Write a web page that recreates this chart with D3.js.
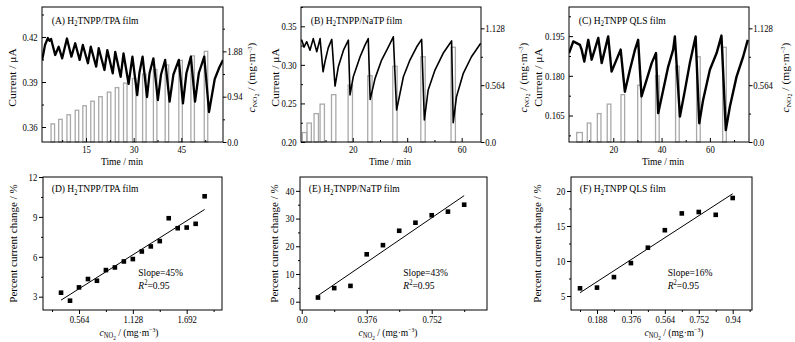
<!DOCTYPE html>
<html><head><meta charset="utf-8">
<script src="https://cdn.jsdelivr.net/npm/d3@7"></script>
<style>
body{margin:0;background:#fff}
text{font-family:"Liberation Serif","Times New Roman",serif;fill:#000;font-size:10px}
</style>
</head><body>
<svg id="chart" width="795" height="342"></svg>
<script>
// ================= DATA =================
// (A) H2TNPP/TPA film — current trace (time in min, current in µA)
const timeA = [1.2,2.1,3.0,3.5,4.0,5.3,6.4,7.5,9.0,10.4,11.6,13.0,14.0,15.6,16.5,18.2,19.0,20.8,21.7,23.4,24.2,25.9,26.8,28.4,29.6,31.1,31.8,32.8,34.2,35.0,36.2,37.6,38.6,39.9,41.3,42.5,44.2,45.5,46.6,48.0,49.3,50.5,52.2,53.7,55.5,57.0,58.1];
const currentA = [0.4047,0.4147,0.4193,0.4175,0.4187,0.408,0.4135,0.4058,0.419,0.4069,0.4158,0.4047,0.4147,0.4025,0.4135,0.4002,0.4125,0.398,0.4113,0.3958,0.410,0.3935,0.409,0.3887,0.4069,0.3813,0.396,0.4069,0.380,0.396,0.4058,0.378,0.395,0.4047,0.3769,0.395,0.4047,0.3758,0.396,0.4069,0.3769,0.396,0.4069,0.370,0.392,0.400,0.4047];
const barStartA = [4.0,6.4,9.0,11.6,14.0,16.5,19.0,21.7,24.2,26.8,29.6,32.8,36.2,39.9,44.2,48.0,52.2];
const barEndA   = [5.1,7.5,10.1,12.7,15.1,17.6,20.1,22.8,25.3,27.9,30.7,33.9,37.3,41.0,45.3,49.1,53.3];

// (B) H2TNPP/NaTP film
const timeB = [1.0,1.3,2.1,3.1,4.3,5.5,6.8,8.0,9.1,9.8,11.0,12.3,13.5,14.7,16.6,18.4,19.0,20.2,22.7,24.5,25.7,26.4,28.2,30.6,33.1,34.9,36.1,38.6,41.0,43.5,45.3,46.3,47.7,50.2,53.2,56.3,56.9,58.1,60.6,63.6,67.0];
const currentB = [0.330,0.332,0.323,0.330,0.319,0.334,0.317,0.334,0.291,0.304,0.322,0.333,0.2725,0.2975,0.319,0.332,0.261,0.2846,0.3105,0.3256,0.334,0.255,0.2825,0.3062,0.3234,0.3364,0.2414,0.2846,0.3062,0.3234,0.333,0.2285,0.2674,0.2933,0.315,0.331,0.225,0.2587,0.289,0.3105,0.328];
const barStartB = [1.5,3.2,5.8,8.0,12.2,18.3,25.5,34.7,45.0,56.1];
const barEndB   = [3.1,4.8,7.4,9.6,13.8,19.9,27.1,36.3,46.6,57.7];

// (C) H2TNPP QLS film
const timeC = [1.7,3.45,6.2,6.9,8.0,9.65,11.06,13.8,15.2,17.9,19.3,23.06,24.8,26.9,29.0,30.3,31.7,33.8,35.9,37.7,38.6,40.7,42.75,44.8,45.5,47.6,49.7,51.7,54.1,55.6,57.2,60.0,62.8,64.8,66.6,68.3,71.05,73.8,75.7];
const currentC = [0.1886,0.1930,0.1917,0.1899,0.1854,0.1936,0.1861,0.1943,0.1848,0.1949,0.1816,0.1899,0.174,0.1823,0.1899,0.1936,0.1722,0.1785,0.1848,0.1886,0.1659,0.1747,0.1835,0.1899,0.1949,0.1646,0.1747,0.1848,0.1949,0.1621,0.1709,0.1823,0.1886,0.1952,0.1595,0.1684,0.1797,0.1873,0.1936];
const barStartC = [4.85,9.24,13.4,17.5,23.2,30.1,37.5,45.8,54.5,65.3];
const barEndC   = [7.2,10.7,14.9,19.0,24.7,31.6,39.0,47.3,56.0,66.8];

// NO2 concentrations (mg·m^-3)
const concTPA = [0.376,0.47,0.564,0.658,0.752,0.846,0.94,1.034,1.128,1.222,1.316,1.41,1.504,1.598,1.692,1.786,1.88];
const concTen = [0.094,0.188,0.282,0.376,0.47,0.564,0.658,0.752,0.846,0.94];

// Percent current change (%)
const changeD = [3.3,2.7,3.7,4.33,4.2,5.0,5.2,5.65,5.83,6.4,6.78,7.18,8.9,8.15,8.2,8.48,10.55];
const changeE = [1.5,4.9,5.7,17.1,20.4,25.6,28.5,31.2,32.5,35.0];
const changeF = [6.1,6.2,7.7,9.7,11.9,14.4,16.8,17.0,16.6,19.0];

// Tick values / labels
const tickTimeA = [15,30,45], tickTimeBC = [20,40,60];
const tickCurA = [0.36,0.39,0.42], tickCurALab = ["0.36","0.39","0.42"];
const tickCurB = [0.20,0.25,0.30,0.35], tickCurBLab = ["0.20","0.25","0.30","0.35"];
const tickCurC = [0.165,0.180,0.195], tickCurCLab = ["0.165","0.180","0.195"];
const tickConcA = [0,0.94,1.88], tickConcALab = ["0.0","0.94","1.88"];
const tickConcBC = [0,0.564,1.128], tickConcBCLab = ["0.0","0.564","1.128"];
const tickXD = [0.564,1.128,1.692], tickXDLab = ["0.564","1.128","1.692"];
const tickXE = [0,0.376,0.752], tickXELab = ["0.0","0.376","0.752"];
const tickXF = [0.188,0.376,0.564,0.752,0.94], tickXFLab = ["0.188","0.376","0.564","0.752","0.94"];
const tickYD = [3,6,9,12], tickYE = [0,10,20,30,40], tickYF = [5,10,15,20];
const slopeLabels = ["Slope=45%","Slope=43%","Slope=16%"];

// ================= DRAW =================
const SX = 0.87;
const svg = d3.select("#chart");
let clipId = 0;

function rich(parent, x, y, parts, o) {
  o = o || {};
  const g = parent.append("g").attr("transform", `translate(${x},${y})` + (o.rotate ? ` rotate(${o.rotate})` : ""));
  const t = g.append("text").attr("text-anchor", o.anchor || "start")
    .style("font-size", (o.size || 11) + "px")
    .attr("transform", o.rotate ? `scale(1,${SX})` : `scale(${SX},1)`);
  if (o.dy) t.attr("dy", o.dy);
  parts.forEach(p => {
    const s = t.append("tspan").text(p.t);
    if (p.size) s.style("font-size", p.size + "px");
    if (p.dy) s.attr("dy", p.dy);
    if (p.it) s.style("font-style", "italic");
  });
}
const titleParts = (pre, post) => [{t: pre + " H"}, {t: "2", size: 7.5, dy: 2.5}, {t: post, dy: -2.5}];
const concLabel = [{t: "c", it: true}, {t: "NO", size: 7.5, dy: 2.5}, {t: "2", size: 6, dy: 1.5}, {t: " / (mg·m", dy: -4}, {t: "−3", size: 6.5, dy: -3.5}, {t: ")", dy: 3.5}];

function drawAxis(g, mk, vals, labels, size, pad, minor, minorSize) {
  if (minor) {
    const m = g.append("g").call(mk().tickValues(minor).tickFormat("").tickSize(minorSize));
    m.select(".domain").remove();
  }
  const a = g.append("g").call(mk().tickValues(vals).tickFormat((d, i) => labels[i]).tickSize(size).tickPadding(pad));
  a.select(".domain").remove();
  a.selectAll("text").attr("transform", `scale(${SX},1)`).style("font-size", "10px");
  g.selectAll("line").attr("stroke", "#000");
}

function range(a, b, s) { const r = []; for (let v = a; v <= b + 1e-9; v += s) r.push(+v.toFixed(4)); return r; }

function topPanel(c) {
  const g = svg.append("g");
  const x = d3.scaleLinear().domain(c.xd).range([c.x0, c.x1]);
  const yL = d3.scaleLinear().domain(c.yd).range([c.y1, c.y0]);
  const yR = d3.scaleLinear().domain(c.rd).range([c.y1, c.y0]);
  const id = "clip" + (clipId++);
  svg.append("clipPath").attr("id", id).append("rect").attr("x", c.x0).attr("y", c.y0).attr("width", c.x1 - c.x0).attr("height", c.y1 - c.y0);
  // bars (NO2 pulses)
  g.append("g").selectAll("rect").data(c.bs).join("rect")
    .attr("x", (d) => x(d)).attr("width", (d, i) => x(c.be[i]) - x(d))
    .attr("y", (d, i) => yR(c.conc[i])).attr("height", (d, i) => yR(0) - yR(c.conc[i]))
    .attr("fill", "none").attr("stroke", "#a9a9a9").attr("stroke-width", 1.3);
  // current curve
  const pts = c.t.map((t, i) => [t, c.v[i]]);
  g.append("path").datum(pts).attr("clip-path", `url(#${id})`)
    .attr("d", d3.line().x(d => x(d[0])).y(d => yL(d[1])))
    .attr("fill", "none").attr("stroke", "#000").attr("stroke-width", c.sw).attr("stroke-linejoin", "round");
  // frame
  g.append("rect").attr("x", c.x0).attr("y", c.y0).attr("width", c.x1 - c.x0).attr("height", c.y1 - c.y0)
    .attr("fill", "none").attr("stroke", "#000").attr("stroke-width", 1);
  drawAxis(g.append("g").attr("transform", `translate(${c.x0},0)`), () => d3.axisLeft(yL), c.yt, c.ytl, -4, 5, c.ym, -2);
  drawAxis(g.append("g").attr("transform", `translate(${c.x1},0)`), () => d3.axisRight(yR), c.rt, c.rtl, 3.5, 1.5, c.rm, 2);
  drawAxis(g.append("g").attr("transform", `translate(0,${c.y1})`), () => d3.axisBottom(x), c.xt, c.xt.map(String), -4, 4, c.xm, -2);
  rich(svg, c.x0 + 9.7, 23.5, titleParts(c.tag, c.name));
  rich(svg, c.lx, (c.y0 + c.y1) / 2 + 3, [{t: "Current / μA"}], {rotate: -90, anchor: "middle", dy: "0.35em", size: 11.5});
  rich(svg, c.rx, (c.y0 + c.y1) / 2 + 3, concLabel, {rotate: -90, anchor: "middle", dy: "0.35em", size: 11.5});
  rich(svg, c.tx, 165, [{t: "Time / min"}], {anchor: "middle", size: 11});
}

function botPanel(c) {
  const g = svg.append("g");
  const x = d3.scaleLinear().domain(c.xd).range([c.x0, c.x1]);
  const y = d3.scaleLinear().domain(c.yd).range([c.y1, c.y0]);
  // least-squares fit line computed from the points
  const mx = d3.mean(c.cx), my = d3.mean(c.cy);
  const sxy = d3.sum(c.cx, (d, i) => (d - mx) * (c.cy[i] - my)), sxx = d3.sum(c.cx, d => (d - mx) * (d - mx));
  const k = sxy / sxx, b = my - k * mx;
  const xa = d3.min(c.cx), xb = d3.max(c.cx);
  g.append("line").attr("x1", x(xa)).attr("y1", y(k * xa + b)).attr("x2", x(xb)).attr("y2", y(k * xb + b))
    .attr("stroke", "#000").attr("stroke-width", 1);
  g.append("g").selectAll("rect").data(c.cx).join("rect")
    .attr("x", (d) => x(d) - 2.3).attr("y", (d, i) => y(c.cy[i]) - 2.3).attr("width", 4.6).attr("height", 4.6).attr("fill", "#000");
  g.append("rect").attr("x", c.x0).attr("y", c.y0).attr("width", c.x1 - c.x0).attr("height", c.y1 - c.y0)
    .attr("fill", "none").attr("stroke", "#000").attr("stroke-width", 1);
  drawAxis(g.append("g").attr("transform", `translate(${c.x0},0)`), () => d3.axisLeft(y), c.yt, c.yt.map(String), 4, 2.6, c.ym, 2);
  drawAxis(g.append("g").attr("transform", `translate(0,${c.y1})`), () => d3.axisBottom(x), c.xt, c.xtl, 4, 1.8, c.xm, 2);
  rich(svg, c.x0 + 8.7, 192, titleParts(c.tag, c.name));
  rich(svg, c.lx, (c.y0 + c.y1) / 2, [{t: "Percent current change / %"}], {rotate: -90, anchor: "middle", dy: "0.35em", size: 11});
  rich(svg, c.bx, 335.5, concLabel, {anchor: "middle", size: 11});
  rich(svg, c.sx, 275.5, [{t: c.slope}], {size: 11});
  rich(svg, c.sx, 288.5, [{t: "R", it: true}, {t: "2", size: 7.5, dy: -4}, {t: "=0.95", dy: 4}], {size: 11});
}

topPanel({x0: 42, x1: 223, y0: 7, y1: 142, xd: [1.15, 58.1], yd: [0.35, 0.44], rd: [0, 2.8],
  t: timeA, v: currentA, bs: barStartA, be: barEndA, conc: concTPA, sw: 2.3,
  yt: tickCurA, ytl: tickCurALab, ym: range(0.36, 0.435, 0.015),
  rt: tickConcA, rtl: tickConcALab, rm: range(0.47, 2.35, 0.94),
  xt: tickTimeA, xm: range(7.5, 52.5, 15),
  tag: "(A)", name: "TNPP/TPA film", lx: 12, rx: 251.7, tx: 122});
topPanel({x0: 301, x1: 481, y0: 7, y1: 142, xd: [1.0, 67.1], yd: [0.2, 0.375], rd: [0, 1.34],
  t: timeB, v: currentB, bs: barStartB, be: barEndB, conc: concTen, sw: 1.6,
  yt: tickCurB, ytl: tickCurBLab, ym: range(0.225, 0.375, 0.05),
  rt: tickConcBC, rtl: tickConcBCLab, rm: range(0.282, 1.30, 0.564),
  xt: tickTimeBC, xm: range(10, 60, 20),
  tag: "(B)", name: "TNPP/NaTP film", lx: 275, rx: 523, tx: 390});
topPanel({x0: 569, x1: 749, y0: 7, y1: 142, xd: [1.67, 76.2], yd: [0.155, 0.206], rd: [0, 1.34],
  t: timeC, v: currentC, bs: barStartC, be: barEndC, conc: concTen, sw: 2.4,
  yt: tickCurC, ytl: tickCurCLab, ym: range(0.1575, 0.2025, 0.015),
  rt: tickConcBC, rtl: tickConcBCLab, rm: range(0.282, 1.30, 0.564),
  xt: tickTimeBC, xm: range(10, 70, 20),
  tag: "(C)", name: "TNPP QLS film", lx: 538, rx: 785, tx: 663});

botPanel({x0: 43, x1: 222, y0: 177, y1: 310, xd: [0.187, 2.062], yd: [2, 12],
  cx: concTPA, cy: changeD, xt: tickXD, xtl: tickXDLab, xm: range(0.282, 1.974, 0.564),
  yt: tickYD, ym: range(4.5, 10.5, 3),
  tag: "(D)", name: "TNPP/TPA film", lx: 13.3, bx: 129, sx: 138.3, slope: slopeLabels[0]});
botPanel({x0: 300, x1: 487, y0: 177, y1: 310, xd: [-0.01, 1.072], yd: [-3, 45],
  cx: concTen, cy: changeE, xt: tickXE, xtl: tickXELab, xm: range(0.188, 0.94, 0.376),
  yt: tickYE, ym: range(5, 35, 10),
  tag: "(E)", name: "TNPP/NaTP film", lx: 275, bx: 388, sx: 403.3, slope: slopeLabels[1]});
botPanel({x0: 571, x1: 752, y0: 177, y1: 310, xd: [0.044, 1.047], yd: [3, 22],
  cx: concTen, cy: changeF, xt: tickXF, xtl: tickXFLab, xm: range(0.094, 1.034, 0.188),
  yt: tickYF, ym: range(7.5, 17.5, 5),
  tag: "(F)", name: "TNPP QLS film", lx: 538, bx: 674, sx: 667.7, slope: slopeLabels[2]});
</script>
</body></html>
